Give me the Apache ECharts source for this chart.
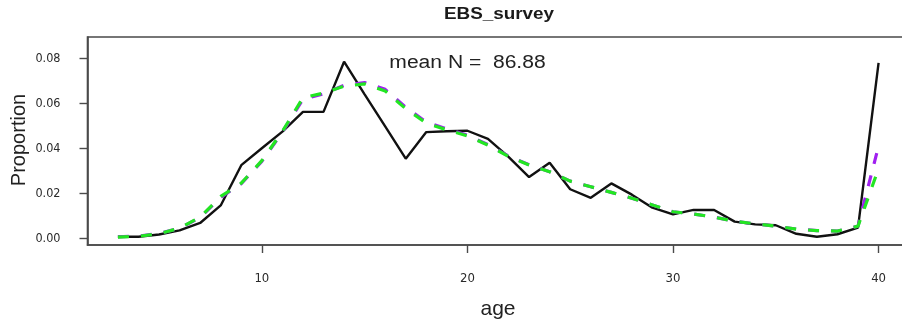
<!DOCTYPE html>
<html>
<head>
<meta charset="utf-8">
<title>EBS_survey</title>
<script src="https://cdn.jsdelivr.net/npm/echarts@6/dist/echarts.min.js"></script>
<style>
  html, body { margin: 0; padding: 0; background: #ffffff; }
  #chart { width: 902px; height: 323px; }
</style>
</head>
<body>
<div id="chart"></div>
<script>
// Age composition for the EBS survey: observed vs. two expected fits
const ages = [3, 4, 5, 6, 7, 8, 9, 10, 11, 12, 13, 14, 15, 16, 17, 18, 19, 20, 21,
  22, 23, 24, 25, 26, 27, 28, 29, 30, 31, 32, 33, 34, 35, 36, 37, 38, 39, 40];

const observed = [0.0007, 0.0007, 0.0017, 0.0035, 0.0068, 0.0146, 0.0325, 0.0400,
  0.0474, 0.0562, 0.0562, 0.0785, 0.0640, 0.0497, 0.0354, 0.0472, 0.0476, 0.0478,
  0.0442, 0.0362, 0.0272, 0.0336, 0.0218, 0.0180, 0.0244, 0.0194, 0.0136, 0.0106,
  0.0126, 0.0126, 0.0074, 0.0062, 0.0058, 0.0020, 0.0007, 0.0018, 0.0047, 0.0780];

const expectedA = [0.0006, 0.0010, 0.0021, 0.0045, 0.0092, 0.0182, 0.0243, 0.0342,
  0.0472, 0.0618, 0.0642, 0.0680, 0.0692, 0.0662, 0.0582, 0.0517, 0.0486, 0.0458,
  0.0416, 0.0366, 0.0327, 0.0296, 0.0254, 0.0229, 0.0204, 0.0178, 0.0148, 0.0118,
  0.0108, 0.0094, 0.0076, 0.0064, 0.0054, 0.0041, 0.0034, 0.0032, 0.0054, 0.0410];

const expectedB = [0.0005, 0.0009, 0.0020, 0.0045, 0.0094, 0.0186, 0.0245, 0.0345,
  0.0475, 0.0625, 0.0645, 0.0676, 0.0686, 0.0655, 0.0576, 0.0512, 0.0482, 0.0455,
  0.0414, 0.0364, 0.0326, 0.0296, 0.0254, 0.0229, 0.0204, 0.0178, 0.0148, 0.0118,
  0.0108, 0.0094, 0.0076, 0.0064, 0.0054, 0.0041, 0.0034, 0.0032, 0.0054, 0.0310];

const xTickValues = [10, 20, 30, 40];
const yTickValues = [0.00, 0.02, 0.04, 0.06, 0.08];

const titleText = 'EBS_survey';
const noteText = 'mean N =  86.88';
const xName = 'age';
const yName = 'Proportion';

const pairs = vals => ages.map((a, i) => [a, vals[i]]);

const chart = echarts.init(document.getElementById('chart'), null, { renderer: 'canvas' });

const frameColor = '#4a4a4a';
const tickFont = '"Liberation Sans Narrow", "Arial Narrow", "DejaVu Sans Condensed", "Liberation Sans", Arial, sans-serif';
const textFont = '"Liberation Sans", Arial, sans-serif';

chart.setOption({
  animation: false,
  backgroundColor: '#ffffff',
  grid: {
    left: 87.5, top: 37, right: -7, bottom: 78,
    outerBoundsMode: 'none',
    containLabel: false,
    show: true, borderColor: frameColor, borderWidth: 1.6,
    backgroundColor: 'transparent'
  },
  xAxis: {
    type: 'value',
    min: 1.52, max: 41.48,
    splitLine: { show: false },
    axisLine: { show: true, onZero: false, lineStyle: { color: frameColor, width: 1.6 } },
    axisTick: { show: true, customValues: xTickValues, length: 8, lineStyle: { color: frameColor, width: 1.4 } },
    axisLabel: {
      customValues: xTickValues, margin: 27,
      fontSize: 13, color: '#2a2a2a', fontFamily: tickFont,
      formatter: v => String(v)
    }
  },
  yAxis: {
    type: 'value',
    min: -0.00298, max: 0.08947,
    splitLine: { show: false },
    axisLine: { show: true, lineStyle: { color: frameColor, width: 1.6 } },
    axisTick: { show: true, customValues: yTickValues, length: 8, lineStyle: { color: frameColor, width: 1.4 } },
    axisLabel: {
      customValues: yTickValues, margin: 27,
      fontSize: 12.5, color: '#2a2a2a', fontFamily: tickFont,
      formatter: v => v.toFixed(2)
    }
  },
  series: [
    {
      name: 'observed', type: 'line', data: pairs(observed),
      symbol: 'none', z: 2,
      lineStyle: { color: '#111111', width: 2.4 }
    },
    {
      name: 'expected (purple)', type: 'line', data: pairs(expectedA),
      symbol: 'none', z: 3,
      lineStyle: { color: '#a020f0', width: 3.2, type: [11, 12] }
    },
    {
      name: 'expected (green)', type: 'line', data: pairs(expectedB),
      symbol: 'none', z: 4,
      lineStyle: { color: '#22e622', width: 3.2, type: [11, 12] }
    }
  ],
  graphic: [
    {
      type: 'text', x: 499, y: 15, scaleX: 1.18,
      style: { text: titleText, font: 'bold 16px ' + textFont, fill: '#1a1a1a',
        textAlign: 'center', textVerticalAlign: 'middle' }
    },
    {
      type: 'text', x: 467.5, y: 63.5, scaleX: 1.17,
      style: { text: noteText, font: '18px ' + textFont, fill: '#222',
        textAlign: 'center', textVerticalAlign: 'middle' }
    },
    {
      type: 'text', x: 498, y: 309,
      style: { text: xName, font: '21px ' + textFont, fill: '#222',
        textAlign: 'center', textVerticalAlign: 'middle' }
    },
    {
      type: 'text', x: 19, y: 140, rotation: Math.PI / 2,
      style: { text: yName, font: '20px ' + textFont, fill: '#222',
        textAlign: 'center', textVerticalAlign: 'middle' }
    }
  ]
});
</script>
</body>
</html>
